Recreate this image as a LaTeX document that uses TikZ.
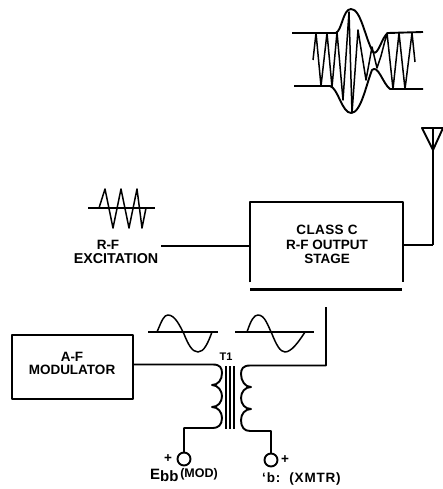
\documentclass[tikz,border=0pt]{standalone}
\usepackage{fontspec}
\setmainfont{Liberation Sans}
\begin{document}
\begin{tikzpicture}[x=1pt,y=-1pt,line join=round,
  wire/.style={line width=1.9pt},
  thin wave/.style={line width=1.5pt},
  lab/.style={inner sep=0pt,font=\fontsize{13.5}{13.5}\selectfont\bfseries},
  term/.style={circle,draw,line width=1.9pt,minimum size=13pt,inner sep=0pt}]
\useasboundingbox (0,0) rectangle (443,489);
% upper modulated wave
\coordinate (ul) at (292,33); \coordinate (ur) at (423,32);
\coordinate (ll) at (294,86); \coordinate (lr) at (423,89);
\draw[wire] (ul) -- (336,33) .. controls (342,30) and (343,9) .. (351,9)
  .. controls (361,9) and (365,38) .. (373,52) .. controls (378,57) and (382,36) .. (388,33) -- (ur);
\draw[wire] (ll) -- (330,86) .. controls (338,88) and (342,113) .. (351,113)
  .. controls (361,113) and (366,85) .. (372,70) .. controls (378,64) and (383,84) .. (390,89) -- (lr);
\draw[thin wave] (313,60) -- (316,33) -- (321,86) -- (327,33) -- (332,87) -- (337,32) -- (343,100) -- (349,12) -- (352,113)
  -- (358,30) -- (366,80) -- (372,47) -- (377,68) -- (381,56) -- (387,33) -- (393,89) -- (399,33) -- (405,89) -- (412,33) -- (415,62);
% antenna
\coordinate (antTop) at (433,128); \coordinate (antBase) at (433,150);
\coordinate (antCorner) at (433,245);
\draw[wire] (422,128) -- (443,128) -- (antBase) -- cycle;
\draw[wire] (antTop) -- (antCorner);
% output stage
\node[lab,minimum width=153pt,minimum height=80pt,anchor=north west] (stage) at (250,202) {};
\node[lab,align=center] (stagetext) at (327,244.5) {\addfontfeatures{LetterSpace=3}CLASS C\\[1pt]R-F OUTPUT\\[1pt]STAGE};
\draw[wire] (stage.south west) -- (stage.north west) -- (stage.north east) -- (stage.south east);
\coordinate (rail1) at (250,289.5); \coordinate (rail2) at (402,289.5);
\draw[line width=2.2pt] (rail1) -- (rail2);
\draw[wire] (stage.east |- antCorner) -- (antCorner);
% excitation
\coordinate (rfIn) at (161,246);
\draw[wire] (rfIn) -- (stage.west |- rfIn);
\node[lab] (rf) at (108,245) {R-F};
\node[lab,font=\fontsize{14.3}{14.3}\selectfont\bfseries] (exc) at (116,259) {EXCITATION};
\draw[line width=1.1pt] (88,208) -- (155,208);
\draw[thin wave] (99,208) -- (105,189) -- (113,228) -- (121,189) -- (129,228) -- (137,189) -- (142,228) -- (146,208);
% modulator
\node[draw,wire,minimum width=121pt,minimum height=64pt,anchor=north west] (mod) at (11,334) {};
\node[lab,align=center] (modtext) at (72,363.5) {A-F\\[0pt]MODULATOR};
% waveforms
\draw[line width=1.2pt] (148,332) -- (218,332);
\draw[line width=1.2pt] (235,332) -- (314,332);
\draw[thin wave] (157,332) .. controls (162,320) and (164,315) .. (168,315) .. controls (175,315) and (180,326) .. (184,334)
   .. controls (188,344) and (192,352) .. (198,352) .. controls (204,352) and (208,343) .. (212,332);
\draw[thin wave] (247,332) .. controls (251,320) and (254,315) .. (258,315) .. controls (265,315) and (268,326) .. (272,334)
   .. controls (276,344) and (280,352) .. (285,352) .. controls (291,352) and (298,343) .. (305,332);
% transformer
\node[inner sep=0pt,font=\fontsize{11}{11}\selectfont\bfseries] (t1) at (226,357) {T1};
\draw[line width=1.2pt] (226,366) -- (226,429);
\draw[line width=1.2pt] (230,366) -- (230,429);
\draw[line width=1.2pt] (234,366) -- (234,429);
\coordinate (lc1) at (213,364.5); \coordinate (lc2) at (213,428);
\coordinate (rc1) at (250,365.5); \coordinate (rc2) at (250,431);
\coordinate (rTop) at (326,307); \coordinate (rCorner) at (326,365.5);
\draw[wire] (mod.east |- lc1) -- (lc1)
  .. controls (220,364.5) and (222,368) .. (222,373) .. controls (222,380) and (218,385) .. (212,385)
  .. controls (218,385) and (222,391) .. (222,396) .. controls (222,402) and (218,407) .. (212,407)
  .. controls (218,407) and (222,412) .. (222,418) .. controls (222,425) and (218,428) .. (lc2) -- (184,428) -- (184,453);
\draw[wire] (rTop) -- (rCorner) -- (rc1)
  .. controls (243,365.5) and (241,369) .. (241,374) .. controls (241,381) and (245,387) .. (251,387)
  .. controls (245,387) and (241,392) .. (241,398) .. controls (241,404) and (245,409) .. (251,409)
  .. controls (245,409) and (241,414) .. (241,420) .. controls (241,427) and (244,431) .. (rc2) -- (271,431) -- (271,453);
% terminals
\node[term] (tl) at (184,459) {};
\node[term] (tr) at (271,460) {};
\node[lab] (pl) at (168,459) {+};
\node[lab] (pr) at (285,460) {+};
\node[inner sep=0pt,font=\fontsize{15}{15}\selectfont\bfseries,anchor=base west] (ebb) at (150,479) {E\raisebox{-2pt}{bb}};
\node[inner sep=0pt,font=\fontsize{12.5}{12.5}\selectfont\bfseries] (mdl) at (199,474) {(MOD)};
\node[lab,anchor=west] (xm) at (262,479) {\addfontfeatures{LetterSpace=6}‘b:\ \ (XMTR)};
\end{tikzpicture}
\end{document}
